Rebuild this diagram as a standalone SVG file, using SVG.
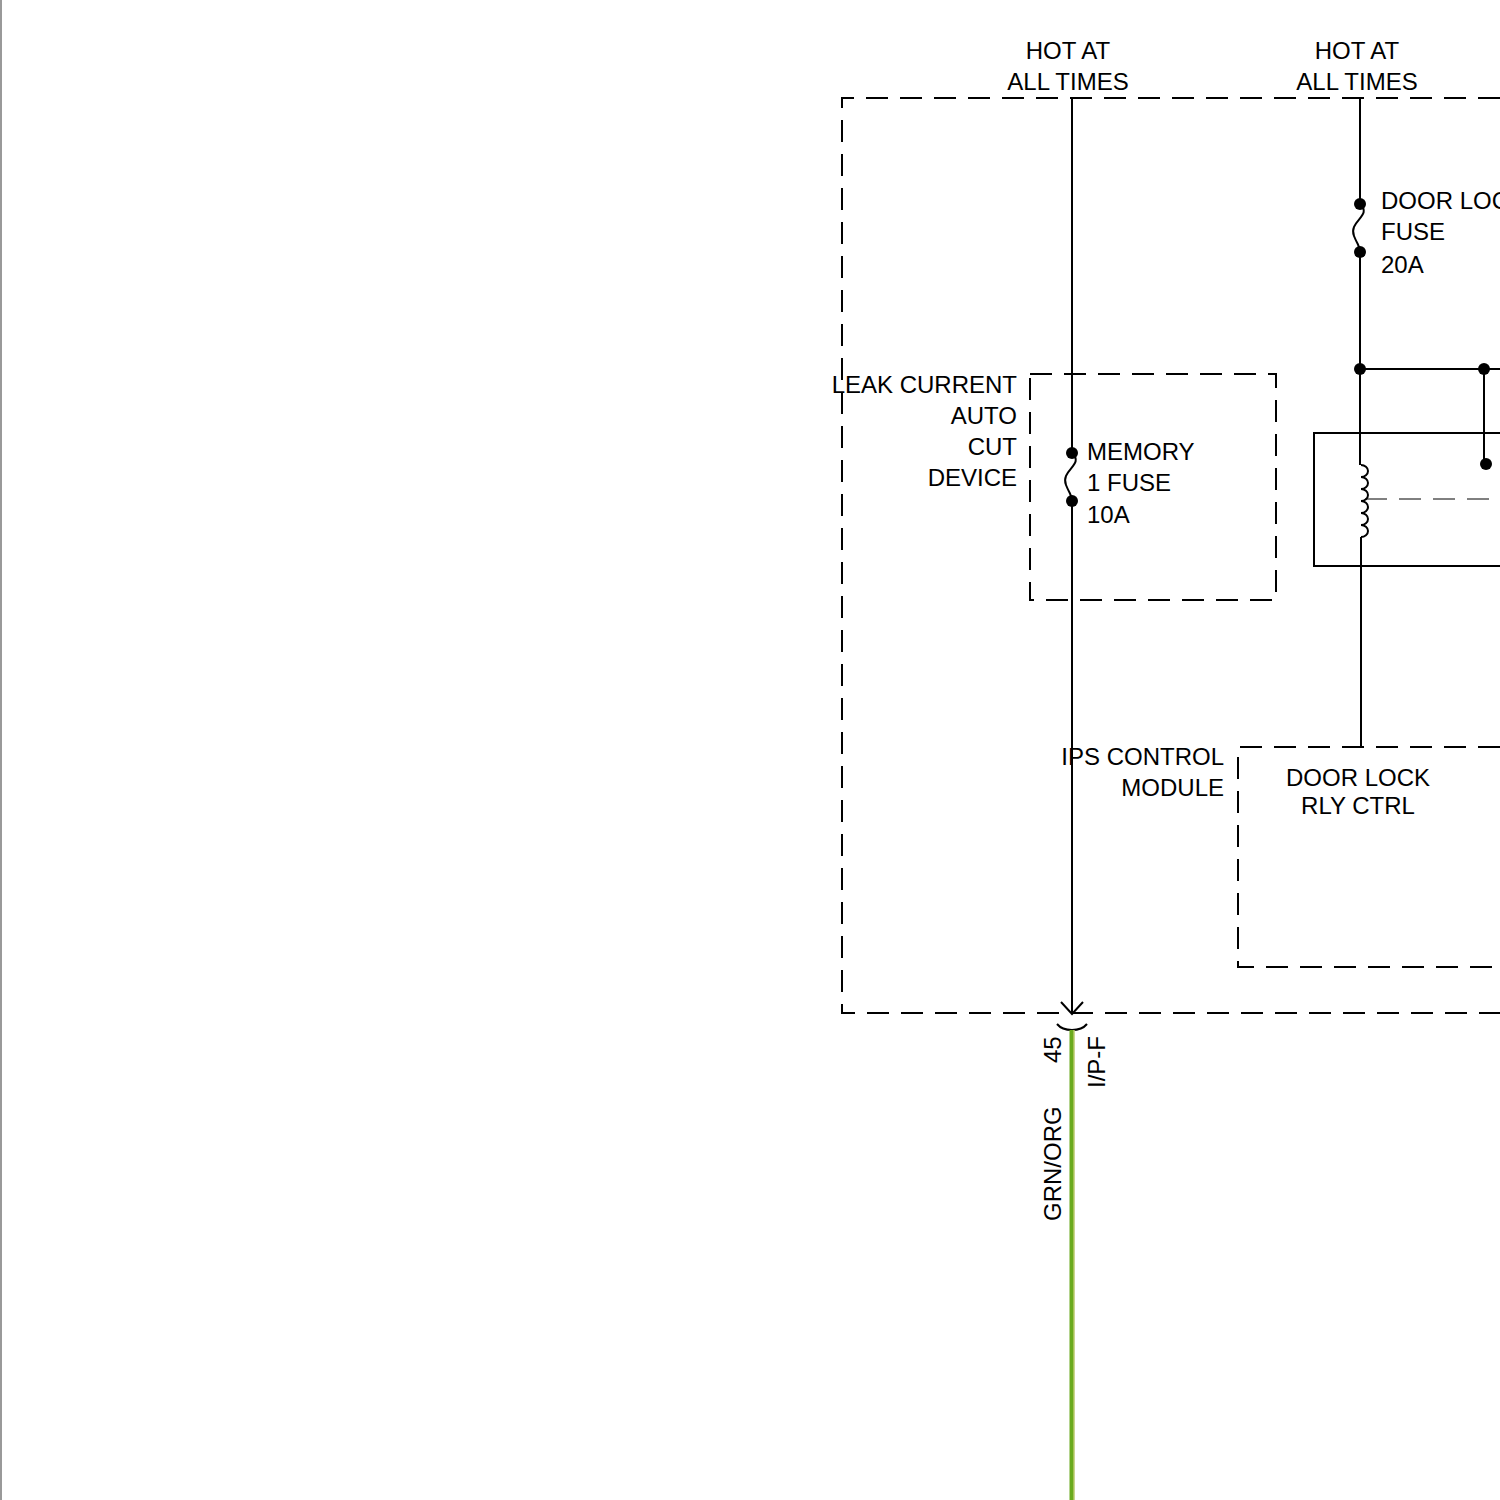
<svg xmlns="http://www.w3.org/2000/svg" width="1500" height="1500" viewBox="0 0 1500 1500">
<style>
text{font-family:"Liberation Sans",Arial,sans-serif;font-size:24px;fill:#000}
.w{stroke:#000;stroke-width:2;fill:none}
.d{stroke:#000;stroke-width:2;fill:none;stroke-dasharray:22,12}
</style>
<rect width="1500" height="1500" fill="#fff"/>
<line x1="1" y1="0" x2="1" y2="1500" stroke="#999" stroke-width="2"/>
<g id="enclosure"><path class="d" d="M1500 98 H842 V1013 H1500"/></g>
<g id="leak-device"><rect class="d" x="1030" y="374" width="246" height="226"/>
<text text-anchor="end"><tspan x="1017" y="393">LEAK CURRENT</tspan><tspan x="1017" y="424">AUTO</tspan><tspan x="1017" y="455">CUT</tspan><tspan x="1017" y="486">DEVICE</tspan></text></g>
<g id="ips-module"><path class="d" d="M1500 747 H1238 V967 H1500"/>
<text text-anchor="end"><tspan x="1224" y="765">IPS CONTROL</tspan><tspan x="1224" y="796">MODULE</tspan></text>
<text text-anchor="middle"><tspan x="1358" y="786">DOOR LOCK</tspan><tspan x="1358" y="814">RLY CTRL</tspan></text></g>
<g id="labels"><text text-anchor="middle"><tspan x="1068" y="59">HOT AT</tspan><tspan x="1068" y="90">ALL TIMES</tspan></text>
<text text-anchor="middle"><tspan x="1357" y="59">HOT AT</tspan><tspan x="1357" y="90">ALL TIMES</tspan></text></g>
<g id="memory-fuse"><text><tspan x="1087" y="460">MEMORY</tspan><tspan x="1087" y="491">1 FUSE</tspan><tspan x="1087" y="523">10A</tspan></text>
<circle cx="1072" cy="453" r="6"/><circle cx="1072" cy="501" r="6"/>
<path class="w" d="M1072 453 C1085 465,1060 470,1066 485 C1070 495,1072 495,1072 501"/></g>
<g id="door-fuse"><text><tspan x="1381" y="209">DOOR LOCK</tspan><tspan x="1381" y="240">FUSE</tspan><tspan x="1381" y="273">20A</tspan></text>
<circle cx="1360" cy="204" r="6"/><circle cx="1360" cy="252" r="6"/>
<path class="w" d="M1360 204 C1373 216,1348 221,1354 236 C1358 246,1360 246,1360 252"/></g>
<g id="relay"><rect class="w" x="1314" y="433" width="200" height="133"/>
<path class="w" d="M1361 465 a7 6 0 0 1 0 12 a7 6 0 0 1 0 12 a7 6 0 0 1 0 12 a7 6 0 0 1 0 12 a7 6 0 0 1 0 12 a7 6 0 0 1 0 12"/>
<line x1="1365" y1="499" x2="1500" y2="499" stroke="#000" stroke-width="1" stroke-dasharray="22,12"/>
<circle cx="1486" cy="464" r="6"/></g>
<g id="connectors">
<path class="w" d="M1072 98 V453 M1072 501 V1013"/>
<path class="w" d="M1061 1002 L1072 1014 L1083 1002"/>
<path class="w" d="M1057 1024 Q1062 1030,1072 1030 Q1082 1030,1087 1024"/>
<path class="w" d="M1360 98 V204 M1360 252 V465 M1361 537 V747"/>
<path class="w" d="M1360 369 H1500 M1484 369 V464"/>
<circle cx="1360" cy="369" r="6"/><circle cx="1484" cy="369" r="6"/>
<line x1="1072" y1="1030" x2="1072" y2="1500" stroke="#6aaa1e" stroke-width="5"/>
<line x1="1074" y1="1030" x2="1074" y2="1500" stroke="#e0d890" stroke-width="1"/>
<text transform="translate(1061 1063) rotate(-90)">45</text>
<text transform="translate(1105 1088) rotate(-90)">I/P-F</text>
<text transform="translate(1061 1221) rotate(-90)">GRN/ORG</text>
</g>
</svg>
